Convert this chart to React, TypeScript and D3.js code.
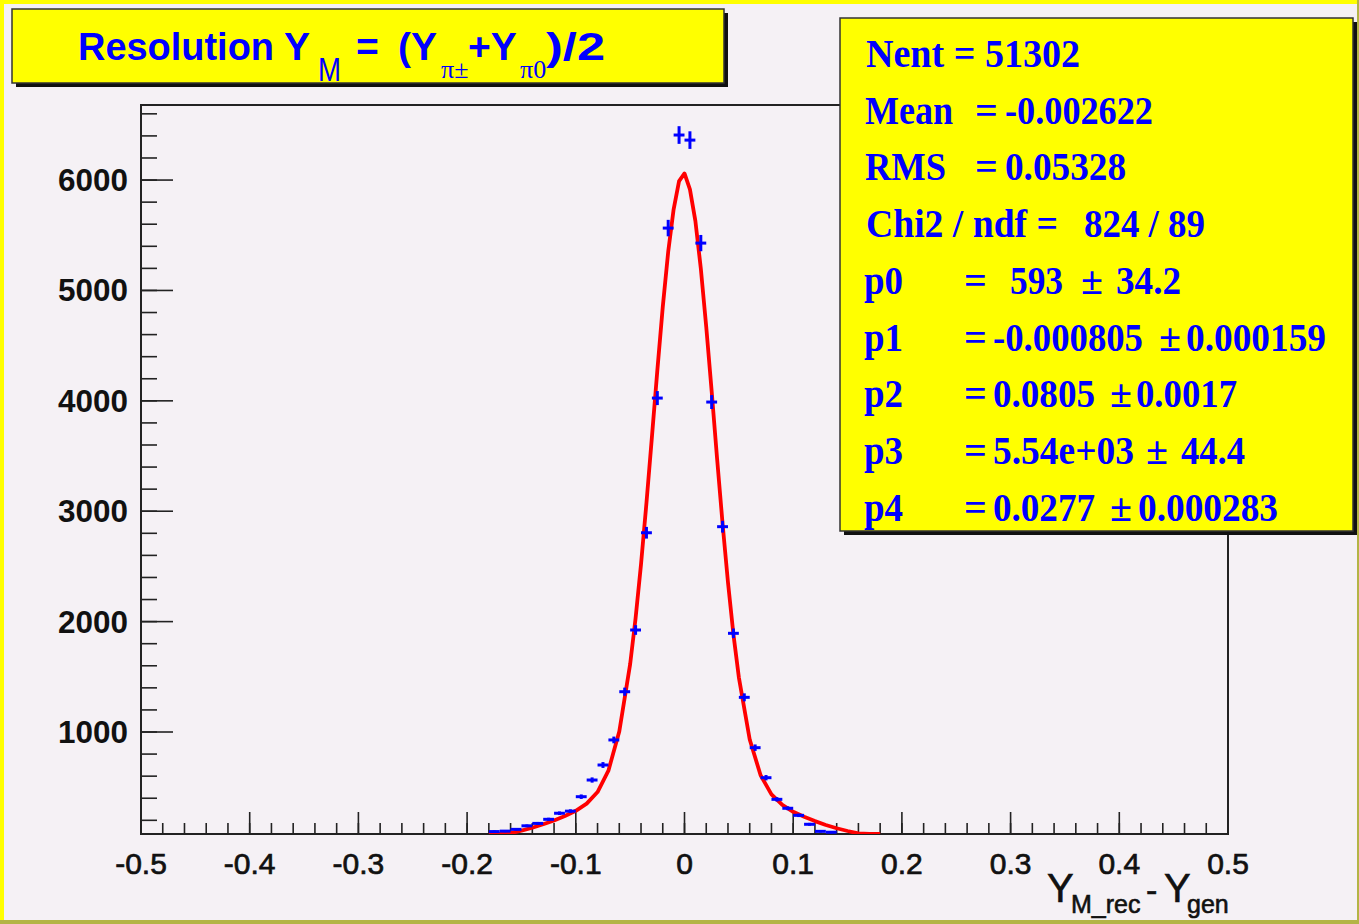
import * as d3 from 'd3';

const W = 1359;
const H = 924;

// histogram contents, bin width 0.01
const binCenters = [
  -0.175, -0.165, -0.155, -0.145, -0.135, -0.125, -0.115, -0.105, -0.095, -0.085,
  -0.075, -0.065, -0.055, -0.045, -0.035, -0.025, -0.015, -0.005,
  0.005, 0.015, 0.025, 0.035, 0.045, 0.055, 0.065, 0.075, 0.085, 0.095,
  0.105, 0.115, 0.125, 0.135,
];
const binCounts = [
  98, 102, 118, 150, 172, 209, 264, 283, 414, 565,
  701, 928, 1365, 1924, 2805, 4025, 5565, 6408,
  6362, 5429, 3989, 2860, 1894, 1314, 858, 586, 390, 309,
  245, 164, 100, 92,
];

// fitted double gaussian, as drawn
const fitX = [
  -0.18, -0.17, -0.16, -0.15, -0.14, -0.13, -0.12, -0.11, -0.1, -0.09, -0.08, -0.07, -0.06,
  -0.05, -0.045, -0.04, -0.035, -0.03, -0.025, -0.02, -0.015, -0.01, -0.005, 0,
  0.005, 0.01, 0.015, 0.02, 0.025, 0.03, 0.035, 0.04, 0.045, 0.05,
  0.06, 0.07, 0.08, 0.09, 0.1, 0.11, 0.12, 0.13, 0.14, 0.15, 0.16, 0.17, 0.18,
];
const fitY = [
  50, 65, 84, 106, 133, 164, 199, 239, 286, 351, 456, 650, 1005,
  1615, 2030, 2520, 3075, 3670, 4275, 4850, 5350, 5735, 5990, 6060,
  5915, 5630, 5200, 4670, 4085, 3475, 2890, 2355, 1885, 1495,
  932, 608, 435, 339, 277, 232, 193, 158, 128, 103, 81, 62, 48,
];

const xTickValues = [-0.5, -0.4, -0.3, -0.2, -0.1, 0, 0.1, 0.2, 0.3, 0.4, 0.5];
const xTickLabels = ['-0.5', '-0.4', '-0.3', '-0.2', '-0.1', '0', '0.1', '0.2', '0.3', '0.4', '0.5'];
const yTickValues = [1000, 2000, 3000, 4000, 5000, 6000];
const yTickLabels = ['1000', '2000', '3000', '4000', '5000', '6000'];

const statNames = ['Mean', 'RMS'];
const statValues = ['-0.002622', '0.05328'];
const parNames = ['p0', 'p1', 'p2', 'p3', 'p4'];
const parValues = ['593', '-0.000805', '0.0805', '5.54e+03', '0.0277'];
const parErrors = ['34.2', '0.000159', '0.0017', '44.4', '0.000283'];

const Y_MIN = 76;
const Y_MAX = 6680;

const BG = '#f5f1f5';
const BLUE = '#0000ff';

export default function App() {
  const x = d3.scaleLinear().domain([-0.5, 0.5]).range([141, 1228]);
  const y = d3.scaleLinear().domain([Y_MIN, Y_MAX]).range([834, 105]);

  const line = d3
    .line<number>()
    .x((_, i) => x(fitX[i]))
    .y((d) => y(Math.max(d, Y_MIN)))
    .curve(d3.curveLinear);

  const minorX = d3.range(0, 51).map((i) => -0.5 + i * 0.02);
  const minorY = d3.range(1, 34).map((i) => i * 200);
  const bw = 0.01;

  const sans = '"Liberation Sans", Arial, Helvetica, sans-serif';
  const serif = '"Liberation Serif", "Times New Roman", serif';

  // stats box rows
  const rowY = (i: number) => 67 + i * 56.7;
  const statNameW = [88, 81];
  const parValX = [1010, 993, 993, 993, 993];
  const parValW = [53, 150, 102, 141, 102];
  const pmX = [1081, 1159, 1110, 1146, 1110];
  const errX = [1116, 1186, 1136, 1181, 1138];
  const errW = [65, 140, 101, 64, 140];
  const fit = { lengthAdjust: 'spacingAndGlyphs' } as const;

  return (
    <svg
      width={W}
      height={H}
      style={{ position: 'absolute', left: 0, top: 0, display: 'block' }}
    >
      <defs>
        <clipPath id="plotclip">
          <rect x={141} y={105} width={1087} height={729} />
        </clipPath>
      </defs>
      <rect x={0} y={0} width={W} height={H} fill={BG} />
      {/* canvas bevel */}
      <rect x={0} y={0} width={W} height={4} fill="#ffff00" />
      <rect x={0} y={0} width={4} height={H} fill="#ffff00" />
      <rect x={0} y={H - 4} width={W} height={4} fill="#b4b445" />
      <rect x={W - 2} y={0} width={2} height={H} fill="#b4b445" />

      {/* frame */}
      <rect x={141} y={105} width={1087} height={729} fill="none" stroke="#222" strokeWidth={2} />

      {/* x ticks */}
      {minorX.map((v, i) => (
        <line key={'mx' + i} x1={x(v)} x2={x(v)} y1={834} y2={823} stroke="#222" strokeWidth={1.6} />
      ))}
      {xTickValues.map((v, i) => (
        <line key={'Mx' + i} x1={x(v)} x2={x(v)} y1={834} y2={812} stroke="#222" strokeWidth={1.6} />
      ))}
      {xTickValues.map((v, i) => (
        <text
          key={'lx' + i}
          x={x(v)}
          y={874}
          textAnchor="middle"
          fontFamily={sans}
          fontSize={30}
          fill="#111"
          stroke="#111"
          strokeWidth={0.7}
        >
          {xTickLabels[i]}
        </text>
      ))}

      {/* y ticks */}
      {minorY.map((v, i) => (
        <line key={'my' + i} x1={141} x2={157} y1={y(v)} y2={y(v)} stroke="#222" strokeWidth={1.6} />
      ))}
      {yTickValues.map((v, i) => (
        <line key={'My' + i} x1={141} x2={173} y1={y(v)} y2={y(v)} stroke="#222" strokeWidth={1.6} />
      ))}
      {yTickValues.map((v, i) => (
        <text
          key={'ly' + i}
          x={128}
          y={y(v) + 11}
          textAnchor="end"
          fontFamily={sans}
          fontWeight="bold"
          fontSize={31}
          fill="#111"
          textLength={70}
          {...fit}
        >
          {yTickLabels[i]}
        </text>
      ))}

      {/* axis title */}
      <g fill="#111" stroke="#111" strokeWidth={0.6} fontFamily={sans}>
        <text x={1047} y={902} fontSize={40}>
          Y
        </text>
        <text x={1071} y={913} fontSize={25}>
          M_rec
        </text>
        <text x={1146} y={902} fontSize={34}>
          -
        </text>
        <text x={1164} y={902} fontSize={40}>
          Y
        </text>
        <text x={1187} y={913} fontSize={25}>
          gen
        </text>
      </g>

      {/* data */}
      <g clipPath="url(#plotclip)">
        <path d={line(fitY) || ''} fill="none" stroke="#ff0000" strokeWidth={3.8} strokeLinejoin="round" />
        {binCenters.map((c, i) => {
          const v = binCounts[i];
          if (v < Y_MIN) return null;
          const e = Math.sqrt(v);
          return (
            <g key={'p' + i} stroke={BLUE} strokeWidth={3}>
              <line x1={x(c - bw / 2)} x2={x(c + bw / 2)} y1={y(v)} y2={y(v)} />
              <line x1={x(c)} x2={x(c)} y1={y(Math.max(v - e, Y_MIN))} y2={y(v + e)} />
            </g>
          );
        })}
      </g>

      {/* title box */}
      <rect x={16} y={13} width={712} height={74} fill="#111" />
      <rect x={12} y={9} width={712} height={74} fill="#ffff00" stroke="#333" strokeWidth={1.5} />
      <g fill={BLUE} fontFamily={sans}>
        <text x={78} y={60} fontSize={39} fontWeight="bold" textLength={196} {...fit}>
          Resolution
        </text>
        <text x={284} y={60} fontSize={39} fontWeight="bold">
          Y
        </text>
        <text x={318} y={81} fontSize={33} textLength={23} {...fit}>
          M
        </text>
        <text x={356} y={60} fontSize={39} fontWeight="bold">
          =
        </text>
        <text x={398} y={60} fontSize={39} fontWeight="bold">
          (Y
        </text>
        <text x={441} y={78} fontSize={26} fontFamily={serif}>
          π±
        </text>
        <text x={468} y={60} fontSize={39} fontWeight="bold">
          +Y
        </text>
        <text x={520} y={78} fontSize={26} fontFamily={serif}>
          π0
        </text>
        <text x={546} y={60} fontSize={39} fontWeight="bold" textLength={59} {...fit}>
          )/2
        </text>
      </g>

      {/* stats box */}
      <rect x={844} y={22} width={513} height={513} fill="#111" />
      <rect x={840} y={18} width={513} height={513} fill="#ffff00" stroke="#333" strokeWidth={1.5} />
      <g fill={BLUE} fontFamily={serif} fontWeight="bold" fontSize={40}>
        <text x={866} y={rowY(0)} textLength={214} {...fit}>
          Nent = 51302
        </text>
        {statNames.map((n, i) => (
          <g key={'s' + i}>
            <text x={865} y={rowY(i + 1)} textLength={statNameW[i]} {...fit}>
              {n}
            </text>
            <text x={975} y={rowY(i + 1)}>=</text>
            <text x={1005} y={rowY(i + 1)} textLength={i === 0 ? 148 : 121} {...fit}>
              {statValues[i]}
            </text>
          </g>
        ))}
        <text x={866} y={rowY(3)} textLength={192} {...fit}>
          Chi2 / ndf =
        </text>
        <text x={1084} y={rowY(3)} textLength={121} {...fit}>
          824 / 89
        </text>
        {parNames.map((n, i) => (
          <g key={'p' + i}>
            <text x={864} y={rowY(i + 4)} textLength={39} {...fit}>
              {n}
            </text>
            <text x={964} y={rowY(i + 4)}>=</text>
            <text x={parValX[i]} y={rowY(i + 4)} textLength={parValW[i]} {...fit}>
              {parValues[i]}
            </text>
            <text x={pmX[i]} y={rowY(i + 4)}>±</text>
            <text x={errX[i]} y={rowY(i + 4)} textLength={errW[i]} {...fit}>
              {parErrors[i]}
            </text>
          </g>
        ))}
      </g>
    </svg>
  );
}
